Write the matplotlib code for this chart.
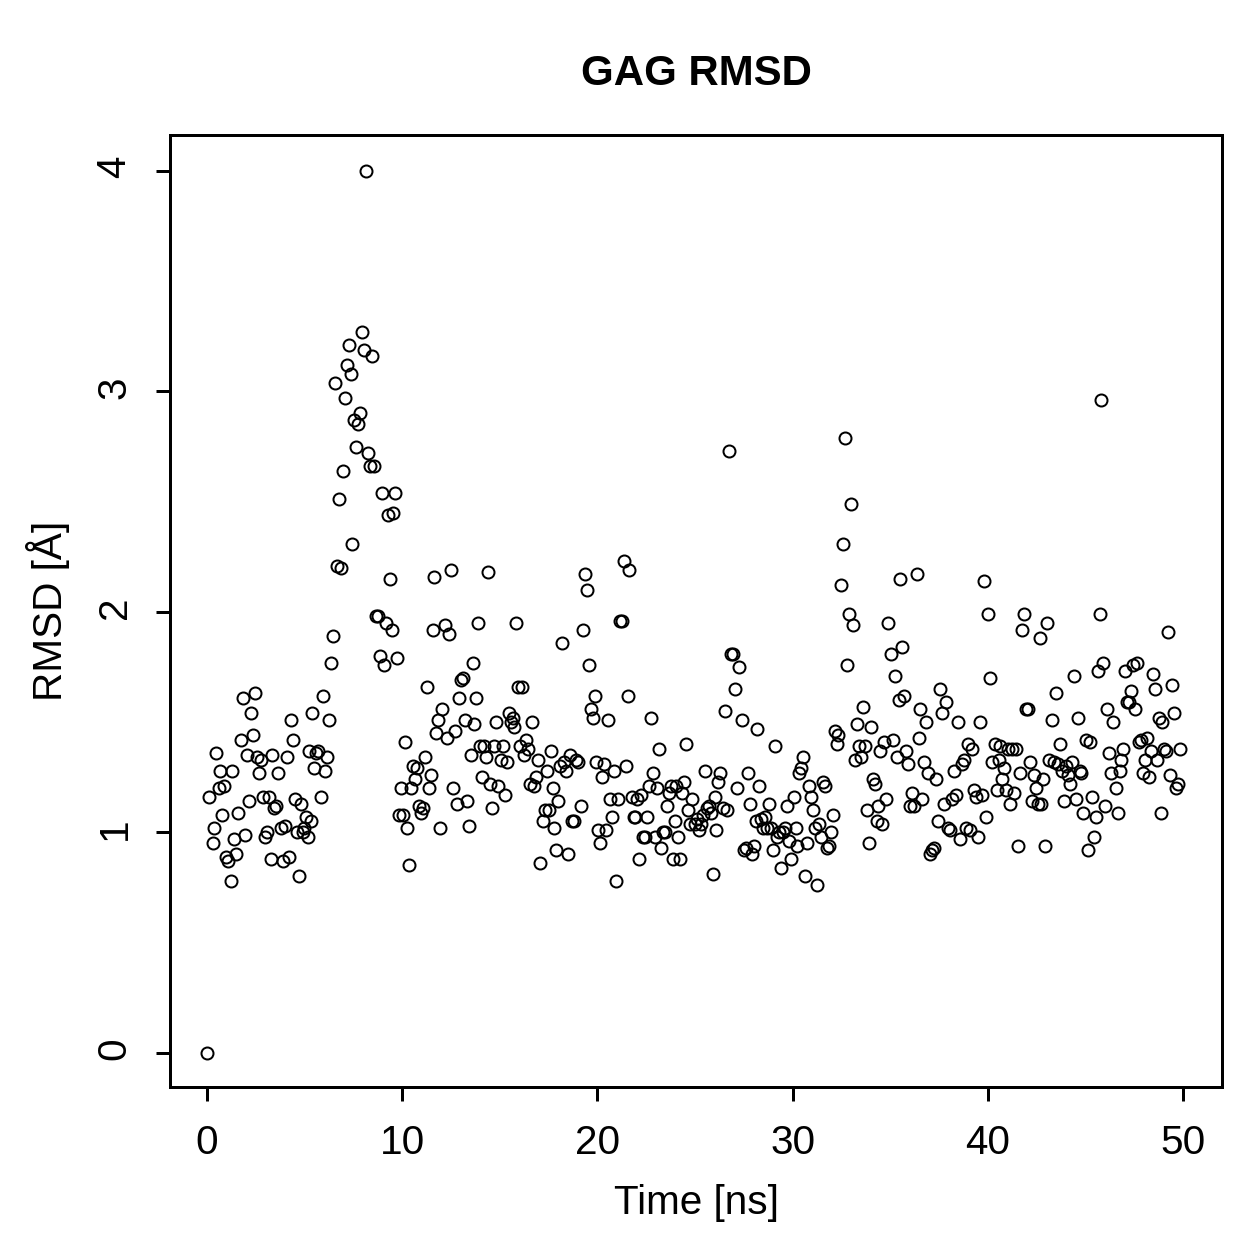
import numpy as np
import matplotlib
matplotlib.use("Agg")
import matplotlib.pyplot as plt

plt.rcParams['font.family'] = ['Liberation Sans', 'DejaVu Sans']

# values, in 10 ns blocks
time_0_10 = [0, 0.1, 0.3, 0.35, 0.45, 0.6, 0.65, 0.75, 0.85, 0.95,
             1.05, 1.2, 1.3, 1.4, 1.5, 1.6, 1.75, 1.85, 1.95, 2.05,
             2.15, 2.25, 2.35, 2.45, 2.55, 2.65, 2.75, 2.85, 2.95, 3.05,
             3.15, 3.25, 3.35, 3.45, 3.55, 3.65, 3.8, 3.9, 4.0, 4.1,
             4.2, 4.3, 4.4, 4.5, 4.6, 4.7, 4.8, 4.9, 4.95,
             5.05, 5.15, 5.2, 5.3, 5.4, 5.5, 5.6, 5.7, 5.85, 5.95,
             6.05, 6.15, 6.25, 6.35, 6.45, 6.55, 6.65, 6.75, 6.85, 6.95,
             7.05, 7.15, 7.25, 7.35, 7.45, 7.55, 7.65, 7.75, 7.85, 7.95,
             8.05, 8.15, 8.25, 8.35, 8.45, 8.55, 8.65, 8.75, 8.85, 8.95,
             9.05, 9.15, 9.25, 9.35, 9.45, 9.55, 9.65, 9.75, 9.85, 9.95]
rmsd_0_10 = [0.0, 1.16, 0.95, 1.02, 1.36, 1.20, 1.28, 1.08, 1.21, 0.89,
             0.87, 0.78, 1.28, 0.97, 0.90, 1.09, 1.42, 1.61, 0.99, 1.35,
             1.14, 1.54, 1.44, 1.63, 1.34, 1.27, 1.33, 1.16, 0.98, 1.00,
             1.16, 0.88, 1.35, 1.11, 1.12, 1.27, 1.02, 0.87, 1.03, 1.34,
             0.89, 1.51, 1.42, 1.15, 1.00, 0.80, 1.13, 1.00, 1.02,
             1.07, 0.98, 1.37, 1.05, 1.54, 1.29, 1.36, 1.37, 1.16, 1.62,
             1.28, 1.34, 1.51, 1.77, 1.89, 3.04, 2.21, 2.51, 2.20, 2.64,
             2.97, 3.12, 3.21, 3.08, 2.31, 2.87, 2.75, 2.85, 2.90, 3.27,
             3.19, 4.00, 2.72, 2.66, 3.16, 2.66, 1.98, 1.98, 1.80, 2.54,
             1.76, 1.95, 2.44, 2.15, 1.92, 2.45, 2.54, 1.79, 1.08, 1.20]

time_10_20 = [10.05, 10.15, 10.25, 10.35, 10.45, 10.55, 10.65, 10.75, 10.85, 10.95,
              11.05, 11.15, 11.25, 11.35, 11.45, 11.55, 11.65, 11.75, 11.85, 11.95,
              12.05, 12.2, 12.3, 12.4, 12.5, 12.6, 12.7, 12.8, 12.9, 13.0,
              13.1, 13.2, 13.3, 13.4, 13.5, 13.6, 13.7, 13.8, 13.9, 14.0,
              14.1, 14.2, 14.3, 14.4, 14.5, 14.6, 14.7, 14.8, 14.9,
              15.05, 15.15, 15.25, 15.35, 15.45, 15.55, 15.65, 15.75, 15.85, 15.95,
              16.05, 16.15, 16.25, 16.35, 16.45, 16.55, 16.65, 16.75, 16.85, 16.95,
              17.05, 17.2, 17.3, 17.4, 17.5, 17.6, 17.7, 17.8, 17.9, 18.0,
              18.1, 18.2, 18.3, 18.4, 18.5, 18.6, 18.7, 18.8, 18.9, 19.0,
              19.15, 19.25, 19.35, 19.45, 19.55, 19.65, 19.75, 19.85, 19.95]
rmsd_10_20 = [1.08, 1.41, 1.02, 0.85, 1.20, 1.30, 1.24, 1.29, 1.12, 1.09,
              1.11, 1.34, 1.66, 1.20, 1.26, 1.92, 2.16, 1.45, 1.51, 1.02,
              1.56, 1.94, 1.43, 1.90, 2.19, 1.20, 1.46, 1.13, 1.61, 1.69,
              1.70, 1.51, 1.14, 1.03, 1.35, 1.77, 1.49, 1.61, 1.95, 1.39,
              1.25, 1.39, 1.34, 2.18, 1.22, 1.11, 1.39, 1.50, 1.21,
              1.33, 1.39, 1.17, 1.32, 1.54, 1.50, 1.52, 1.48, 1.95, 1.66,
              1.39, 1.66, 1.35, 1.42, 1.38, 1.22, 1.50, 1.21, 1.25, 1.33,
              0.86, 1.05, 1.10, 1.28, 1.10, 1.37, 1.20, 1.02, 0.92, 1.14,
              1.30, 1.86, 1.32, 1.28, 0.90, 1.35, 1.05, 1.05, 1.33, 1.32,
              1.12, 1.92, 2.17, 2.10, 1.76, 1.56, 1.52, 1.62, 1.32]

time_20_30 = [20.05, 20.15, 20.25, 20.35, 20.45, 20.55, 20.65, 20.75, 20.85, 20.95,
              21.05, 21.15, 21.25, 21.35, 21.45, 21.55, 21.6, 21.75, 21.85, 21.95,
              22.05, 22.15, 22.25, 22.35, 22.45, 22.55, 22.65, 22.75, 22.85, 22.95,
              23.05, 23.15, 23.25, 23.35, 23.45, 23.55, 23.65, 23.75, 23.85, 23.95,
              24.05, 24.15, 24.25, 24.35, 24.45, 24.55, 24.65, 24.75, 24.85,
              25.0, 25.1, 25.2, 25.3, 25.4, 25.5, 25.6, 25.7, 25.8, 25.9,
              26.0, 26.1, 26.2, 26.3, 26.45, 26.55, 26.65, 26.75, 26.85, 26.95,
              27.05, 27.15, 27.25, 27.4, 27.5, 27.6, 27.7, 27.8, 27.9, 28.0,
              28.1, 28.2, 28.3, 28.4, 28.5, 28.6, 28.7, 28.8, 28.9, 29.0,
              29.1, 29.2, 29.3, 29.4, 29.5, 29.6, 29.7, 29.8, 29.9]
rmsd_20_30 = [1.01, 0.95, 1.25, 1.31, 1.01, 1.51, 1.15, 1.07, 1.28, 0.78,
              1.15, 1.96, 1.96, 2.23, 1.30, 1.62, 2.19, 1.16, 1.07, 1.07,
              1.15, 0.88, 1.17, 0.98, 0.98, 1.07, 1.21, 1.52, 1.27, 0.98,
              1.20, 1.38, 0.93, 1.00, 1.00, 1.12, 1.18, 1.21, 0.88, 1.05,
              1.21, 0.98, 0.88, 1.18, 1.23, 1.40, 1.10, 1.04, 1.15,
              1.04, 1.06, 1.01, 1.04, 1.08, 1.28, 1.11, 1.12, 1.09, 0.81,
              1.16, 1.01, 1.23, 1.27, 1.11, 1.55, 1.10, 2.73, 1.81, 1.81,
              1.65, 1.20, 1.75, 1.51, 0.92, 0.93, 1.27, 1.13, 0.90, 0.94,
              1.05, 1.47, 1.21, 1.06, 1.02, 1.07, 1.02, 1.13, 1.02, 0.92,
              1.39, 0.98, 1.00, 0.84, 1.00, 1.02, 1.12, 0.96, 0.88]

time_30_40 = [30.05, 30.15, 30.25, 30.35, 30.45, 30.55, 30.65, 30.75, 30.85, 30.95,
              31.05, 31.15, 31.25, 31.35, 31.45, 31.55, 31.65, 31.75, 31.85, 31.95,
              32.05, 32.15, 32.25, 32.35, 32.5, 32.6, 32.7, 32.8, 32.9, 33.0,
              33.1, 33.2, 33.3, 33.4, 33.5, 33.6, 33.7, 33.8, 33.9, 34.0,
              34.1, 34.2, 34.3, 34.4, 34.5, 34.6, 34.7, 34.8, 34.9,
              35.05, 35.15, 35.25, 35.35, 35.45, 35.5, 35.6, 35.7, 35.8, 35.9,
              36.0, 36.1, 36.2, 36.35, 36.45, 36.55, 36.65, 36.75, 36.85, 36.95,
              37.05, 37.15, 37.25, 37.35, 37.45, 37.55, 37.65, 37.75, 37.85, 37.95,
              38.05, 38.15, 38.25, 38.35, 38.45, 38.6, 38.7, 38.8, 38.9, 39.0,
              39.1, 39.2, 39.3, 39.4, 39.5, 39.6, 39.7, 39.8, 39.9]
rmsd_30_40 = [1.16, 1.02, 0.94, 1.27, 1.29, 1.34, 0.80, 0.95, 1.21, 1.16,
              1.10, 1.02, 0.76, 1.04, 0.98, 1.23, 1.21, 0.93, 0.94, 1.00,
              1.08, 1.46, 1.40, 1.44, 2.12, 2.31, 2.79, 1.76, 1.99, 2.49,
              1.94, 1.33, 1.49, 1.39, 1.34, 1.57, 1.39, 1.10, 0.95, 1.48,
              1.24, 1.22, 1.05, 1.12, 1.37, 1.04, 1.41, 1.15, 1.95,
              1.81, 1.42, 1.71, 1.34, 1.60, 2.15, 1.84, 1.62, 1.37, 1.31,
              1.12, 1.18, 1.12, 2.17, 1.43, 1.56, 1.15, 1.32, 1.50, 1.27,
              0.90, 0.92, 0.93, 1.24, 1.05, 1.65, 1.54, 1.13, 1.59, 1.02,
              1.01, 1.15, 1.28, 1.17, 1.50, 0.97, 1.31, 1.33, 1.02, 1.40,
              1.01, 1.38, 1.19, 1.16, 0.98, 1.50, 1.17, 2.14, 1.07]

time_40_50 = [40.0, 40.1, 40.2, 40.35, 40.45, 40.55, 40.65, 40.75, 40.85, 40.95,
              41.05, 41.15, 41.25, 41.35, 41.45, 41.55, 41.65, 41.75, 41.85, 41.95,
              42.05, 42.15, 42.25, 42.35, 42.45, 42.55, 42.65, 42.75, 42.85, 42.95,
              43.05, 43.15, 43.3, 43.4, 43.5, 43.6, 43.7, 43.8, 43.9, 44.0,
              44.1, 44.2, 44.3, 44.4, 44.5, 44.6, 44.7, 44.8, 44.9,
              45.05, 45.15, 45.25, 45.35, 45.45, 45.55, 45.65, 45.75, 45.8, 45.9,
              46.0, 46.1, 46.2, 46.3, 46.4, 46.55, 46.65, 46.75, 46.85, 46.95,
              47.05, 47.15, 47.25, 47.35, 47.45, 47.55, 47.65, 47.75, 47.85, 47.95,
              48.05, 48.15, 48.25, 48.35, 48.45, 48.55, 48.65, 48.75, 48.85, 48.95,
              49.05, 49.15, 49.25, 49.35, 49.45, 49.55, 49.65, 49.75, 49.85]
rmsd_40_50 = [1.99, 1.70, 1.32, 1.40, 1.19, 1.33, 1.39, 1.24, 1.29, 1.19,
              1.38, 1.13, 1.38, 1.18, 1.38, 0.94, 1.27, 1.92, 1.99, 1.56,
              1.56, 1.32, 1.14, 1.26, 1.20, 1.13, 1.88, 1.13, 1.24, 0.94,
              1.95, 1.33, 1.51, 1.32, 1.63, 1.31, 1.40, 1.28, 1.14, 1.30,
              1.26, 1.22, 1.32, 1.71, 1.15, 1.52, 1.28, 1.27, 1.09,
              1.42, 0.92, 1.41, 1.16, 0.98, 1.07, 1.73, 1.99, 2.96, 1.77,
              1.12, 1.56, 1.36, 1.27, 1.50, 1.20, 1.09, 1.28, 1.33, 1.38,
              1.73, 1.59, 1.59, 1.64, 1.76, 1.56, 1.77, 1.41, 1.42, 1.27,
              1.33, 1.43, 1.25, 1.37, 1.72, 1.65, 1.33, 1.52, 1.09, 1.50,
              1.38, 1.37, 1.91, 1.26, 1.67, 1.54, 1.20, 1.22, 1.38]

x_ticks = [0, 10, 20, 30, 40, 50]
y_ticks = [0, 1, 2, 3, 4]

time = np.array(time_0_10 + time_10_20 + time_20_30 + time_30_40 + time_40_50)
rmsd = np.array(rmsd_0_10 + rmsd_10_20 + rmsd_20_30 + rmsd_30_40 + rmsd_40_50)

fig = plt.figure(figsize=(1259 / 180, 1259 / 180), dpi=180)
ax = fig.add_axes([170 / 1259, 1 - 1087 / 1259, (1222 - 170) / 1259, (1087 - 135) / 1259])

# open circles like R's pch=1
ax.plot(time, rmsd, 'o', mfc='none', mec='black', ms=4.8, mew=0.8)

ax.set_xlim(-1.9, 52.0)
ax.set_ylim(-0.155, 4.163)
ax.set_xticks(x_ticks)
ax.set_yticks(y_ticks)

for s in ax.spines.values():
    s.set_linewidth(1.2)
ax.tick_params(length=5.6, width=1.2, labelsize=16.2, pad=9)
ax.tick_params(axis='y', labelrotation=90)

ax.set_xlabel('Time [ns]', fontsize=16.2, labelpad=9)
ax.set_ylabel('RMSD [Å]', fontsize=16.2, labelpad=10)
ax.set_title('GAG RMSD', fontsize=16.8, fontweight='bold', pad=20)

fig.savefig('out.png', dpi=180)
